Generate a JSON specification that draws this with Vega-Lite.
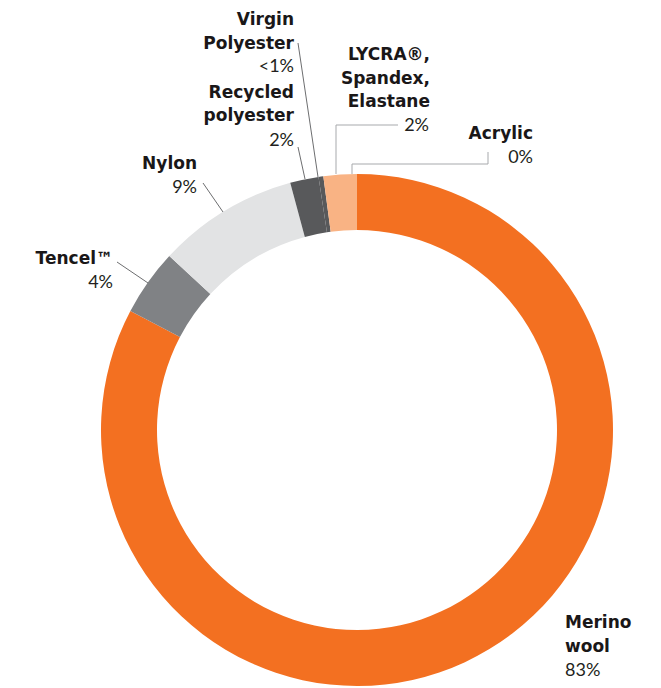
{
  "$schema": "https://vega.github.io/schema/vega-lite/v6.json",
  "width": 661,
  "height": 688,
  "autosize": {"type": "none"},
  "padding": 0,
  "background": "white",
  "config": {"view": {"stroke": null}},
  "datasets": {
    "slices": [
      {"material": "Merino wool", "share": 82.7, "order": 1},
      {"material": "Tencel", "share": 4.2, "order": 2},
      {"material": "Nylon", "share": 8.9, "order": 3},
      {"material": "Recycled polyester", "share": 1.8, "order": 4},
      {"material": "Virgin Polyester", "share": 0.3, "order": 5},
      {"material": "LYCRA, Spandex, Elastane", "share": 2.1, "order": 6},
      {"material": "Acrylic", "share": 0.0, "order": 7}
    ],
    "labels": [
      {"t": "Virgin", "x": 294, "y": 25, "k": "name", "a": "right"},
      {"t": "Polyester", "x": 294, "y": 49, "k": "name", "a": "right"},
      {"t": "<1%", "x": 294, "y": 72, "k": "pct", "a": "right"},
      {"t": "Recycled", "x": 294, "y": 98, "k": "name", "a": "right"},
      {"t": "polyester", "x": 294, "y": 121, "k": "name", "a": "right"},
      {"t": "2%", "x": 294, "y": 146, "k": "pct", "a": "right"},
      {"t": "LYCRA®,", "x": 430, "y": 60, "k": "name", "a": "right"},
      {"t": "Spandex,", "x": 430, "y": 84, "k": "name", "a": "right"},
      {"t": "Elastane", "x": 430, "y": 107, "k": "name", "a": "right"},
      {"t": "2%", "x": 429, "y": 131, "k": "pct", "a": "right"},
      {"t": "Acrylic", "x": 533, "y": 139, "k": "name", "a": "right"},
      {"t": "0%", "x": 533, "y": 163, "k": "pct", "a": "right"},
      {"t": "Nylon", "x": 197, "y": 169, "k": "name", "a": "right"},
      {"t": "9%", "x": 197, "y": 193, "k": "pct", "a": "right"},
      {"t": "Tencel™", "x": 113, "y": 264, "k": "name", "a": "right"},
      {"t": "4%", "x": 113, "y": 288, "k": "pct", "a": "right"},
      {"t": "Merino", "x": 565, "y": 628, "k": "name", "a": "left"},
      {"t": "wool", "x": 565, "y": 652, "k": "name", "a": "left"},
      {"t": "83%", "x": 565, "y": 676, "k": "pct", "a": "left"}
    ],
    "leaders": [
      {"id": "virgin", "seq": 1, "x": 298, "y": 43},
      {"id": "virgin", "seq": 2, "x": 318, "y": 177},
      {"id": "recycled", "seq": 1, "x": 298, "y": 147},
      {"id": "recycled", "seq": 2, "x": 305, "y": 179},
      {"id": "nylon", "seq": 1, "x": 203, "y": 183},
      {"id": "nylon", "seq": 2, "x": 223, "y": 212},
      {"id": "tencel", "seq": 1, "x": 117, "y": 262},
      {"id": "tencel", "seq": 2, "x": 148, "y": 283},
      {"id": "lycra", "seq": 1, "x": 398, "y": 125},
      {"id": "lycra", "seq": 2, "x": 336, "y": 125},
      {"id": "lycra", "seq": 3, "x": 336, "y": 174},
      {"id": "acrylic", "seq": 1, "x": 488, "y": 152},
      {"id": "acrylic", "seq": 2, "x": 488, "y": 164},
      {"id": "acrylic", "seq": 3, "x": 352, "y": 164},
      {"id": "acrylic", "seq": 4, "x": 352, "y": 174}
    ]
  },
  "layer": [
    {
      "data": {"name": "slices"},
      "mark": {"type": "arc", "innerRadius": 200, "outerRadius": 256},
      "encoding": {
        "theta": {"field": "share", "type": "quantitative", "stack": true},
        "order": {"field": "order", "type": "quantitative"},
        "color": {
          "field": "material", "type": "nominal", "legend": null,
          "scale": {
            "domain": ["Merino wool", "Tencel", "Nylon", "Recycled polyester", "Virgin Polyester", "LYCRA, Spandex, Elastane", "Acrylic"],
            "range": ["#F37021", "#808285", "#E2E3E4", "#58595B", "#58595B", "#F9B384", "#F37021"]
          }
        },
        "x": {"datum": 357, "type": "quantitative", "scale": {"domain": [0, 661], "nice": false, "zero": false}, "axis": null},
        "y": {"datum": 430, "type": "quantitative", "scale": {"domain": [688, 0], "nice": false, "zero": false}, "axis": null}
      }
    },
    {
      "data": {"name": "leaders"},
      "transform": [{"filter": "datum.id !== 'lycra' && datum.id !== 'acrylic'"}],
      "mark": {"type": "line", "color": "#6d6e70", "strokeWidth": 1},
      "encoding": {
        "x": {"field": "x", "type": "quantitative", "axis": null},
        "y": {"field": "y", "type": "quantitative", "axis": null},
        "detail": {"field": "id"},
        "order": {"field": "seq", "type": "quantitative"}
      }
    },
    {
      "data": {"name": "leaders"},
      "transform": [{"filter": "datum.id === 'lycra' || datum.id === 'acrylic'"}],
      "mark": {"type": "line", "color": "#a7a9ac", "strokeWidth": 1},
      "encoding": {
        "x": {"field": "x", "type": "quantitative", "axis": null},
        "y": {"field": "y", "type": "quantitative", "axis": null},
        "detail": {"field": "id"},
        "order": {"field": "seq", "type": "quantitative"}
      }
    },
    {
      "data": {"name": "labels"},
      "transform": [{"filter": "datum.k === 'name' && datum.a === 'right'"}],
      "mark": {"type": "text", "align": "right", "baseline": "alphabetic", "font": "DejaVu Sans", "fontWeight": "bold", "fontSize": 17, "color": "#1a1718"},
      "encoding": {
        "x": {"field": "x", "type": "quantitative", "axis": null},
        "y": {"field": "y", "type": "quantitative", "axis": null},
        "text": {"field": "t"}
      }
    },
    {
      "data": {"name": "labels"},
      "transform": [{"filter": "datum.k === 'name' && datum.a === 'left'"}],
      "mark": {"type": "text", "align": "left", "baseline": "alphabetic", "font": "DejaVu Sans", "fontWeight": "bold", "fontSize": 17, "color": "#1a1718"},
      "encoding": {
        "x": {"field": "x", "type": "quantitative", "axis": null},
        "y": {"field": "y", "type": "quantitative", "axis": null},
        "text": {"field": "t"}
      }
    },
    {
      "data": {"name": "labels"},
      "transform": [{"filter": "datum.k === 'pct' && datum.a === 'right'"}],
      "mark": {"type": "text", "align": "right", "baseline": "alphabetic", "font": "Lato", "fontWeight": "normal", "fontSize": 18, "color": "#231f20"},
      "encoding": {
        "x": {"field": "x", "type": "quantitative", "axis": null},
        "y": {"field": "y", "type": "quantitative", "axis": null},
        "text": {"field": "t"}
      }
    },
    {
      "data": {"name": "labels"},
      "transform": [{"filter": "datum.k === 'pct' && datum.a === 'left'"}],
      "mark": {"type": "text", "align": "left", "baseline": "alphabetic", "font": "Lato", "fontWeight": "normal", "fontSize": 18, "color": "#231f20"},
      "encoding": {
        "x": {"field": "x", "type": "quantitative", "axis": null},
        "y": {"field": "y", "type": "quantitative", "axis": null},
        "text": {"field": "t"}
      }
    }
  ]
}
